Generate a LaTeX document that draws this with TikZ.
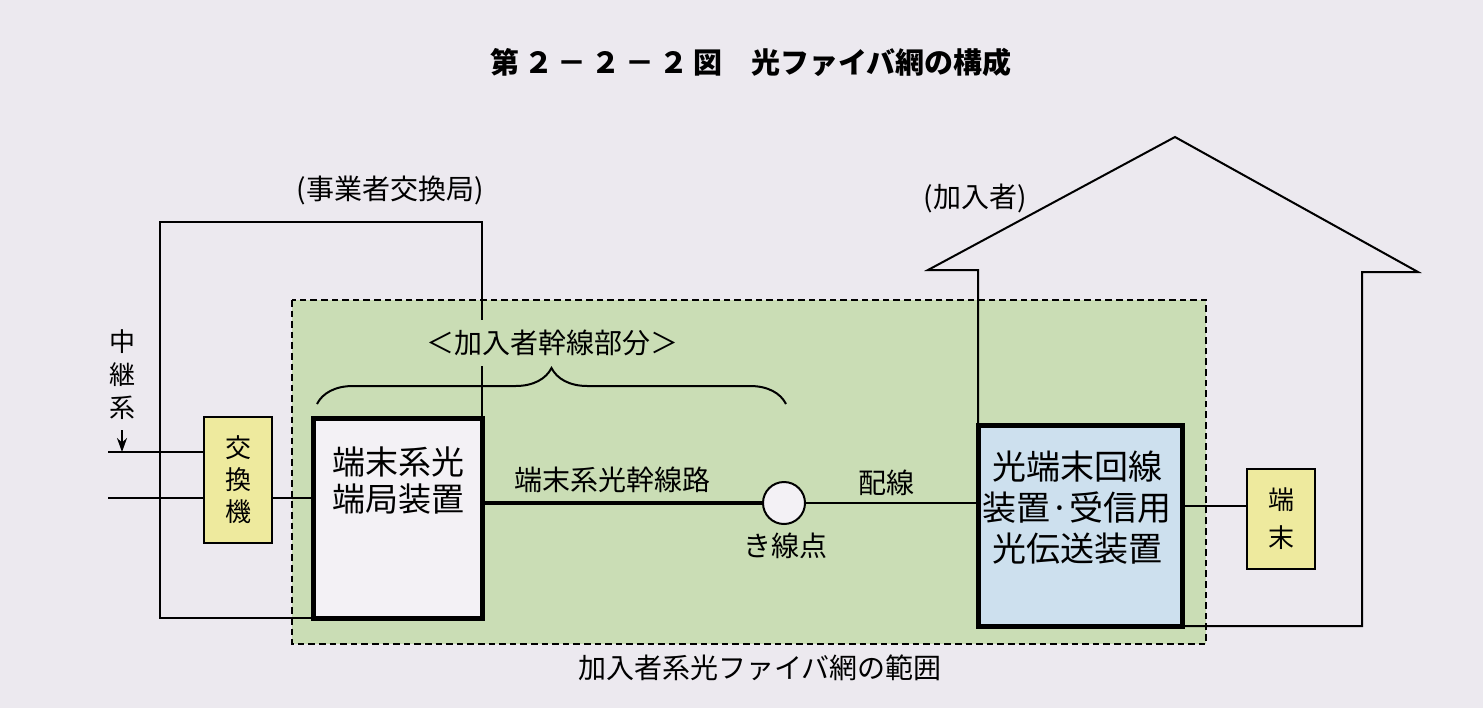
\documentclass[tikz,border=0pt]{standalone}
\usepackage{fontspec}
\setmainfont{Noto Sans CJK JP}
\usetikzlibrary{arrows.meta,decorations.pathreplacing}
\definecolor{haikei}{RGB}{236,233,239}
\definecolor{midori}{RGB}{202,221,181}
\definecolor{ao}{RGB}{205,224,238}
\definecolor{kiiro}{RGB}{238,234,158}
\definecolor{shiro}{RGB}{243,241,245}
\begin{document}
\begin{tikzpicture}[x=0.5pt,y=-0.5pt,
    sen/.style={line width=1pt},
    futosen/.style={line width=2.2pt},
    waku/.style={draw,line width=2.5pt,inner sep=0pt,outer sep=0pt},
    kibako/.style={draw,line width=1pt,fill=kiiro,inner sep=0pt,outer sep=0pt,align=center},
    moji/.style={inner sep=1pt,font=\fontsize{14}{17}\selectfont}]
  % 背景
  \fill[haikei] (0,0) rectangle (1483,708);
  \useasboundingbox (0,0) rectangle (1483,708);
  % タイトル
  \node[font=\fontsize{14.5}{17}\selectfont\bfseries] (title) at (751,62)
    {第\,２\,－\,２\,－\,２\,図\quad 光ファイバ網の構成};
  % 範囲
  \fill[midori] (292,300) rectangle (1206,644);
  % 装置
  \node[waku,fill=shiro,minimum width=84.5pt,minimum height=100pt] (kyoku) at (397.5,518) {};
  \node[inner sep=0pt,font=\fontsize{16.5}{18.5}\selectfont,align=center] (kyokumoji) at (398,481) {端末系光\\端局装置};
  \node[kibako,minimum width=34pt,minimum height=63pt,font=\fontsize{13}{16}\selectfont] (koukan) at (238,480) {交\\換\\機};
  \node[draw,circle,sen,fill=shiro,minimum size=21pt,inner sep=0pt,outer sep=0pt] (kisen) at (784,503) {};
  \node[waku,fill=ao,minimum width=102pt,minimum height=100.5pt] (onu) at (1080,525.5) {};
  \node[inner sep=0pt,font=\fontsize{17}{20.5}\selectfont,align=center] (onumoji) at (1077,508) {光端末回線\\装置·受信用\\光伝送装置};
  \node[kibako,minimum width=34pt,minimum height=50pt,font=\fontsize{13}{19}\selectfont] (tanmatsu) at (1281,519) {端\\末};
  % 交換局
  \coordinate (kyokuLL) at (160,618);
  \coordinate (kyokuUL) at (160,222);
  \coordinate (kyokuUR) at (482,222);
  \draw[sen] (kyoku.south west) -- (kyokuLL) -- (kyokuUL) -- (kyokuUR) -- (kyoku.north east);
  % 加入者宅
  \coordinate (ie1) at (978,270);
  \coordinate (ie2) at (928,270);
  \coordinate (yane) at (1175,137);
  \coordinate (ie3) at (1418,272);
  \coordinate (ie4) at (1362,272);
  \coordinate (ie5) at (1362,626);
  \draw[sen] (onu.north west) -- (ie1) -- (ie2) -- (yane) -- (ie3) -- (ie4) -- (ie5) -- (onu.south east);
  % 中継系
  \coordinate (chukei1) at (108,452);
  \coordinate (chukei2) at (108,498);
  \coordinate (yaue) at (122,430);
  \node[inner sep=0pt,font=\fontsize{13}{16.5}\selectfont,align=center] (chukei) at (122,375) {中\\継\\系};
  \draw[sen,-{Stealth[length=7pt,width=5pt]}] (yaue) -- (yaue |- chukei1);
  \draw[sen] (chukei1) -- (chukei1 -| koukan.west);
  \draw[sen] (chukei2) -- (chukei2 -| koukan.west);
  \draw[sen] (koukan.east |- chukei2) -- (kyoku.west |- chukei2);
  % 光ファイバ
  \draw[futosen] (kyoku.east |- kisen) -- (kisen.west);
  \draw[sen] (kisen.east) -- (onu.west |- kisen);
  \coordinate (tsuna) at (1250,506);
  \draw[sen] (onu.east |- tsuna) -- (tanmatsu.west |- tsuna);
  % 幹線部分
  \draw[sen,decorate,decoration={brace,amplitude=18pt}] (317,404) -- (786,404);
  \node[moji,fill=midori,inner ysep=5pt] (bubun) at (552,343) {＜加入者幹線部分＞};
  % ラベル
  \node[moji] (kansen) at (612,480) {端末系光幹線路};
  \node[moji] (haisen) at (886,483) {配線};
  \node[moji] (kisenmoji) at (785,546) {き線点};
  \node[moji] (kyokumei) at (390,190) {(事業者交換局)};
  \node[moji] (kanyusha) at (975,198) {(加入者)};
  \node[moji] (hanni) at (760,668) {加入者系光ファイバ網の範囲};
  % 点線枠
  \draw[line width=1.1pt,dash pattern=on 3.3pt off 2pt] (292,300) rectangle (1206,644);
\end{tikzpicture}
\end{document}
